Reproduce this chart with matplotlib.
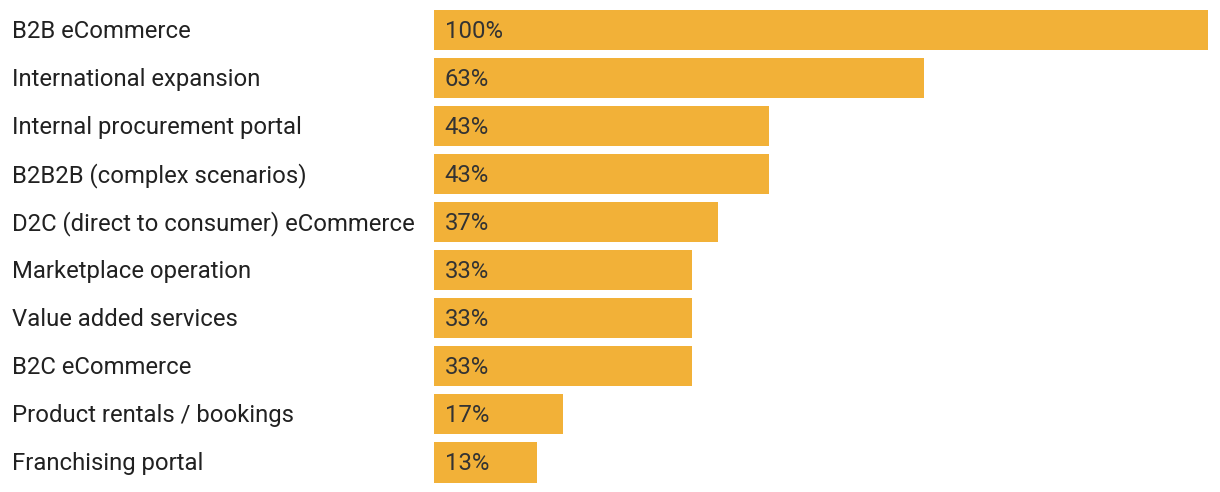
import matplotlib
matplotlib.use("Agg")
import matplotlib.pyplot as plt
from matplotlib.transforms import blended_transform_factory

categories = [
    "B2B eCommerce",
    "International expansion",
    "Internal procurement portal",
    "B2B2B (complex scenarios)",
    "D2C (direct to consumer) eCommerce",
    "Marketplace operation",
    "Value added services",
    "B2C eCommerce",
    "Product rentals / bookings",
    "Franchising portal",
]
# respondent counts out of 30 (bar lengths match n/30, labels show rounded %)
counts = [30, 19, 13, 13, 11, 10, 10, 10, 5, 4]
total = 30
shares = [100 * c / total for c in counts]

BAR_COLOR = "#F2B138"
W, H = 1220, 492

plt.rcParams["font.family"] = ["Roboto", "DejaVu Sans"]

fig = plt.figure(figsize=(W / 100, H / 100), dpi=100)
ax = fig.add_axes([434 / W, 5.5 / H, (1208 - 434) / W, 480 / H])

positions = list(range(len(categories)))
ax.barh(positions, shares, height=40 / 48, color=BAR_COLOR, left=0)
ax.set_xlim(0, 100)
ax.set_ylim(len(categories) - 0.5, -0.5)
ax.axis("off")

label_tf = blended_transform_factory(fig.transFigure, ax.transData)
for pos, name, share in zip(positions, categories, shares):
    ax.text(12 / W, pos + 0.02, name, transform=label_tf, ha="left", va="center",
            fontsize=17.2, color="#212121")
    ax.text(1.4, pos + 0.02, f"{round(share)}%", ha="left", va="center",
            fontsize=17.2, color="#333333")

fig.savefig("out.png", dpi=100)
